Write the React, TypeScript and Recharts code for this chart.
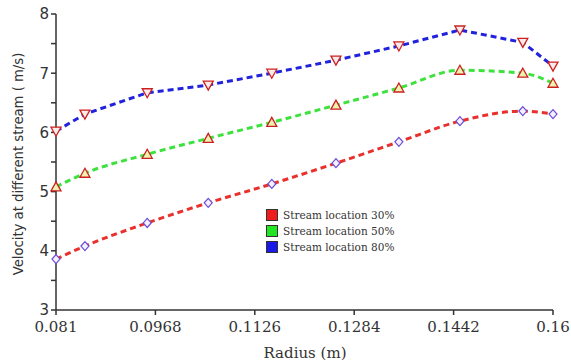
import { Line, LineChart, XAxis, YAxis } from "recharts";

const radius = [0.081, 0.0856, 0.0955, 0.1052, 0.1153, 0.1255, 0.1355, 0.1452, 0.1552, 0.16];
const stream30 = [3.86, 4.08, 4.47, 4.81, 5.13, 5.48, 5.84, 6.19, 6.36, 6.31];
const stream50 = [5.08, 5.31, 5.63, 5.9, 6.17, 6.46, 6.75, 7.05, 7.0, 6.83];
const stream80 = [6.02, 6.31, 6.67, 6.8, 7.0, 7.22, 7.46, 7.73, 7.52, 7.12];

const xTicks = [0.081, 0.0968, 0.1126, 0.1284, 0.1442, 0.16];
const yTicks = [3, 3.5, 4, 4.5, 5, 5.5, 6, 6.5, 7, 7.5, 8];

const legendItems = [
  { label: "Stream location 30%", color: "#ee1c1c" },
  { label: "Stream location 50%", color: "#22e622" },
  { label: "Stream location 80%", color: "#1a1ae8" },
];

const data = radius.map((r, i) => ({
  r,
  s30: stream30[i],
  s50: stream50[i],
  s80: stream80[i],
}));

const TriDown = ({ cx, cy }: any) => (
  <path
    d={`M${cx - 5},${cy - 4} L${cx + 5},${cy - 4} L${cx},${cy + 5} Z`}
    fill="#fbeaea"
    stroke="#cc2020"
    strokeWidth={1.3}
  />
);

const TriUp = ({ cx, cy }: any) => (
  <path
    d={`M${cx},${cy - 5} L${cx + 5},${cy + 4} L${cx - 5},${cy + 4} Z`}
    fill="#eef2b0"
    stroke="#cc2020"
    strokeWidth={1.3}
  />
);

const Diamond = ({ cx, cy }: any) => (
  <path
    d={`M${cx},${cy - 4.5} L${cx + 4},${cy} L${cx},${cy + 4.5} L${cx - 4},${cy} Z`}
    fill="#f4f0ff"
    stroke="#6a4cd6"
    strokeWidth={1.2}
  />
);

function LegendBox() {
  return (
    <div
      style={{
        position: "absolute",
        left: 266,
        top: 207,
        fontFamily: "DejaVu Serif",
        fontSize: 10.5,
        color: "#333",
      }}
    >
      {legendItems.map((it) => (
        <div key={it.label} style={{ display: "flex", alignItems: "center", height: 16 }}>
          <span
            style={{
              width: 10,
              height: 10,
              background: it.color,
              border: "1px solid #333",
              marginRight: 5,
              display: "inline-block",
            }}
          />
          {it.label}
        </div>
      ))}
    </div>
  );
}

export default function App() {
  return (
    <div style={{ position: "absolute", left: 0, top: 0, width: 571, height: 364, background: "#fff" }}>
      <LineChart
        width={571}
        height={364}
        data={data}
        margin={{ top: 14, right: 18, left: 0, bottom: 0 }}
      >
        <XAxis
          dataKey="r"
          type="number"
          domain={[0.081, 0.16]}
          ticks={xTicks}
          height={54}
          stroke="#333"
          strokeWidth={1.5}
          tickSize={5}
          tickMargin={6}
          tick={{ fontFamily: "DejaVu Serif", fontSize: 15, fill: "#333" }}
          label={{
            content: () => (
              <text
                x={305}
                y={358}
                textAnchor="middle"
                style={{ fontFamily: "DejaVu Serif", fontSize: 15, fill: "#333" }}
              >
                Radius (m)
              </text>
            ),
          }}
        />
        <YAxis
          type="number"
          domain={[3, 8]}
          ticks={yTicks}
          width={56}
          stroke="#333"
          strokeWidth={1.5}
          tickSize={5}
          tickMargin={2}
          interval={0}
          tickFormatter={(v: number) => (Number.isInteger(v) ? String(v) : "")}
          tick={{ fontFamily: "DejaVu Sans", fontSize: 15, fill: "#333" }}
          label={{
            content: () => (
              <text
                x={23}
                y={164}
                transform="rotate(-90 23 164)"
                textAnchor="middle"
                style={{ fontFamily: "DejaVu Sans", fontSize: 13.2, fill: "#333" }}
              >
                Velocity at different stream ( m/s)
              </text>
            ),
          }}
        />
        <Line
          type="monotone"
          dataKey="s30"
          stroke="#e8302c"
          strokeWidth={3}
          strokeDasharray="6 4"
          dot={(p: any) => <Diamond key={`d30-${p.index}`} {...p} />}
          isAnimationActive={false}
        />
        <Line
          type="monotone"
          dataKey="s50"
          stroke="#3ee23e"
          strokeWidth={3}
          strokeDasharray="6 4"
          dot={(p: any) => <TriUp key={`d50-${p.index}`} {...p} />}
          isAnimationActive={false}
        />
        <Line
          type="linear"
          dataKey="s80"
          stroke="#2222dd"
          strokeWidth={3}
          strokeDasharray="6 4"
          dot={(p: any) => <TriDown key={`d80-${p.index}`} {...p} />}
          isAnimationActive={false}
        />
      </LineChart>
      <LegendBox />
    </div>
  );
}
